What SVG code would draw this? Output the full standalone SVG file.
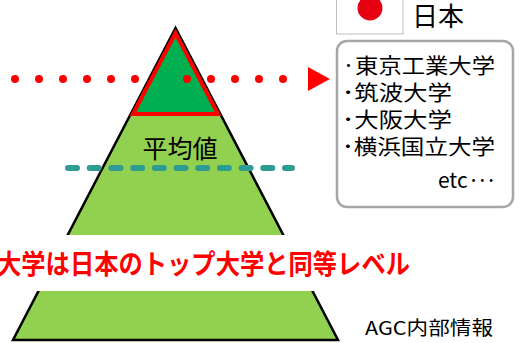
<svg xmlns="http://www.w3.org/2000/svg" width="524" height="343" viewBox="0 0 524 343">
<style>
.jp{font-family:"Noto Sans CJK JP","Noto Sans",sans-serif;fill:#000;font-weight:400}
.list{font-size:21px}
.dot{stroke:#FF0000;stroke-width:8;stroke-linecap:round;stroke-dasharray:0 24;fill:none}
</style>
<rect width="524" height="343" fill="#fff"/>
<g id="pyramid">
  <polygon points="175.5,28 13,340 338,340" fill="#92D050" stroke="#000" stroke-width="2.5" stroke-linejoin="miter"/>
</g>
<g id="top-tier">
  <polygon points="175.5,33 133,114 218,114" fill="#00B050" stroke="#FF0000" stroke-width="4" stroke-linejoin="miter"/>
</g>
<g id="average">
  <text class="jp" x="180" y="158" font-size="25" text-anchor="middle">平均値</text>
</g>
<g id="banner">
  <rect x="0" y="235" width="524" height="56" fill="#fff"/>
  <text x="-3" y="274" font-family="'Noto Sans CJK JP',sans-serif" font-weight="bold" font-size="27" fill="#FF0000" textLength="413" lengthAdjust="spacingAndGlyphs">大学は日本のトップ大学と同等レベル</text>
</g>
<g id="connectors">
  <line class="dot" x1="15" y1="79" x2="159" y2="79"/>
  <line class="dot" x1="187" y1="79" x2="307" y2="79"/>
  <polygon points="308,67 330,79 308,91" fill="#FF0000"/>
  <line x1="68" y1="168" x2="292" y2="168" stroke="#2E9C92" stroke-width="6" stroke-linecap="round" stroke-dasharray="9 12.7"/>
</g>
<g id="flag">
  <rect x="336.5" y="-2" width="66.5" height="36" fill="#fff" stroke="#BFBFBF" stroke-width="1"/>
  <ellipse cx="370" cy="8" rx="12.5" ry="12.5" fill="#E60012"/>
  <text class="jp" x="412" y="26" font-size="26">日本</text>
</g>
<g id="list">
  <rect x="337" y="41" width="176" height="166" rx="10" ry="10" fill="#fff" stroke="#A6A6A6" stroke-width="2.5"/>
  <text class="jp list" x="342" y="73" textLength="153" lengthAdjust="spacingAndGlyphs">·東京工業大学</text>
  <text class="jp list" x="342" y="100" textLength="110" lengthAdjust="spacingAndGlyphs">･筑波大学</text>
  <text class="jp list" x="342" y="127" textLength="110" lengthAdjust="spacingAndGlyphs">･大阪大学</text>
  <text class="jp list" x="342" y="154" textLength="153" lengthAdjust="spacingAndGlyphs">･横浜国立大学</text>
  <text class="jp list" x="494" y="188" text-anchor="end">etc<tspan letter-spacing="-3">···</tspan></text>
</g>
<g id="note">
  <text class="jp" x="365" y="335" font-size="19" textLength="128" lengthAdjust="spacingAndGlyphs">AGC内部情報</text>
</g>
</svg>
